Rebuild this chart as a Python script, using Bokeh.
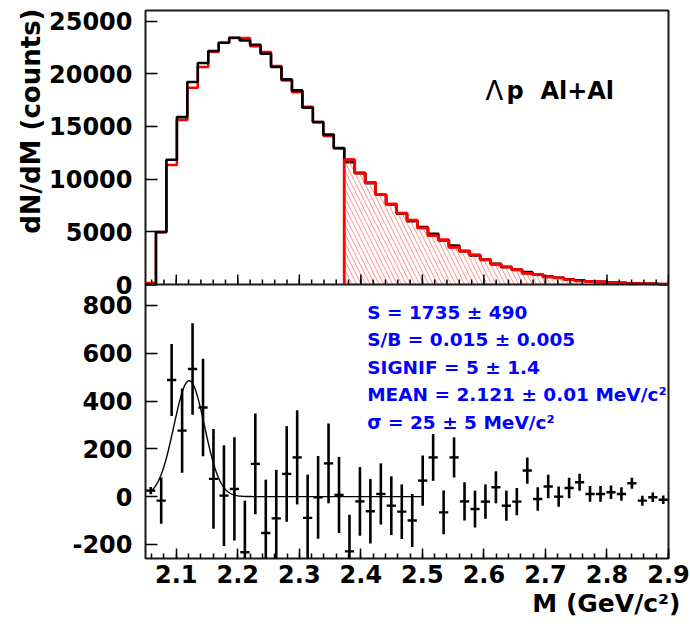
import numpy as np
from bokeh.plotting import figure
from bokeh.models import (Range1d, FixedTicker, CustomJSTickFormatter, Label, Span,
                          PrintfTickFormatter, Title)
from bokeh.embed import file_html
from bokeh.resources import INLINE

# ---------------- data ----------------
mass_lo = 2.05
mass_hi = 2.9
n_bins = 50

# upper panel: same-event (black) and mixed-event background (red), counts per bin
data_counts = [0, 4970, 11835, 15886, 19210, 21013, 22152, 22943, 23418, 23165,
               22753, 21900, 20633, 19462, 18418, 16772, 15411, 14240, 12943, 11614,
               10570, 9620, 8513, 7595, 6709, 6006, 5440, 4810, 4175, 3700,
               3160, 2750, 2340, 1960, 1640, 1390, 1170, 950, 760, 635,
               500, 410, 315, 250, 190, 160, 125, 95, 65, 30]
bg_counts = [150, 4990, 11350, 15610, 18676, 20640, 22078, 22939, 23386, 23398,
             22616, 22052, 20724, 19367, 18254, 16861, 15414, 14101, 12936, 11843,
             10590, 9681, 8524, 7633, 6772, 6106, 5373, 4646, 4241, 3536,
             3180, 2802, 2361, 1921, 1678, 1411, 1061, 960, 718, 635,
             464, 350, 304, 239, 172, 149, 69, 112, 68, 43]
hatch_from_bin = 19  # first bin of the hatched region (M > 2.373)

# lower panel: background-subtracted signal with errors
signal = [25, -17, 488, 276, 534, 373, 74, 4, 32, -233,
          137, -152, -91, 95, 164, -89, -3, 139, 7, -229,
          -20, -61, 11, -38, -63, -100, 67, 164, -66, 164,
          -20, -52, -21, 39, -38, -21, 109, -10, 42, 0,
          36, 60, 11, 11, 18, 11, 56, -17, -3, -13]
signal_err = [15, 97, 151, 176, 191, 204, 209, 211, 216, 216,
              211, 223, 203, 200, 197, 181, 173, 167, 159, 153,
              144, 135, 128, 123, 114, 111, 105, 98, 92, 84,
              80, 77, 72, 67, 63, 57, 55, 49, 49, 42,
              43, 36, 33, 33, 28, 28, 23, 21, 20, 18]

# Gaussian fit parameters
fit_amp = 485.0
fit_mean = 2.121
fit_sigma = 0.025
fit_lo = 2.0585
fit_hi = 2.5

x_major = [2.1, 2.2, 2.3, 2.4, 2.5, 2.6, 2.7, 2.8, 2.9]
x_minor = [2.06, 2.08, 2.1, 2.12, 2.14, 2.16, 2.18, 2.2, 2.22, 2.24, 2.26, 2.28, 2.3,
           2.32, 2.34, 2.36, 2.38, 2.4, 2.42, 2.44, 2.46, 2.48, 2.5, 2.52, 2.54, 2.56,
           2.58, 2.6, 2.62, 2.64, 2.66, 2.68, 2.7, 2.72, 2.74, 2.76, 2.78, 2.8, 2.82,
           2.84, 2.86, 2.88, 2.9]
top_yticks = [0, 5000, 10000, 15000, 20000, 25000]
bot_yticks = [-200, 0, 200, 400, 600, 800]

stat_lines = ["S = 1735 \u00b1 490",
              "S/B = 0.015 \u00b1 0.005",
              "SIGNIF = 5 \u00b1 1.4",
              "MEAN = 2.121 \u00b1 0.01 MeV/c\u00b2",
              "\u03c3 = 25 \u00b1 5 MeV/c\u00b2"]
panel_title_sym = "\u039b"
panel_title = "p\u00a0\u00a0Al+Al"
y_title = "dN/dM (counts)"
x_title = "M (GeV/c\u00b2)"

# ---------------- layout ----------------
T0, T1 = -26000.0, 26000.0     # upper panel occupies [0, 26000]
B0, B1 = -259.0, 2034.0        # lower panel occupies [-259, ~884]
FONT = "DejaVu Sans"

edges = np.linspace(mass_lo, mass_hi, n_bins + 1)
centers = 0.5 * (edges[:-1] + edges[1:])
data_arr = np.array(data_counts, float)
bg_arr = np.array(bg_counts, float)
sig = np.array(signal, float)
err = np.array(signal_err, float)


def step_outline(e, v):
    xs = np.repeat(e, 2)
    ys = np.concatenate([[0.0], np.repeat(v, 2), [0.0]])
    return xs, ys


p = figure(width=690, height=629, x_range=Range1d(mass_lo, mass_hi),
           y_range=Range1d(T0, T1), output_backend="svg", toolbar_location=None,
           min_border_left=145, min_border_right=22, min_border_top=10,
           min_border_bottom=71)
p.extra_y_ranges = {"bot": Range1d(B0, B1)}
p.grid.visible = False
p.outline_line_color = "#1a1a1a"
p.outline_line_width = 2
p.background_fill_color = "white"
p.border_fill_color = "white"

# ---------- upper panel ----------
rx, ry = step_outline(edges, bg_arr)
p.line(rx, ry, line_color="#ff0000", line_width=2.5)
bx, by = step_outline(edges, data_arr)
p.line(bx, by, line_color="black", line_width=2.6)

h = hatch_from_bin
p.quad(left=edges[h:-1], right=edges[h + 1:], bottom=0, top=bg_arr[h:],
       fill_color=None, line_color=None, hatch_pattern="\\",
       hatch_color="#ff7070", hatch_weight=1, hatch_scale=9, hatch_alpha=0.8)
tx, ty = step_outline(edges[h:], bg_arr[h:])
p.line(tx, ty, line_color="#ff0000", line_width=2.8)

# separator between panels and the ticks of the upper panel's x axis
p.add_layout(Span(location=0, dimension="width", line_color="#1a1a1a", line_width=2))
px_top = (T1 - T0) / 548.0
p.segment(x0=x_major, y0=0, x1=x_major, y1=10 * px_top, line_color="black", line_width=1.5)
p.segment(x0=x_minor, y0=0, x1=x_minor, y1=5 * px_top, line_color="black", line_width=1.5)

# ---------- lower panel ----------
hw = 0.0075
p.segment(x0=centers, y0=sig - err, x1=centers, y1=sig + err,
          line_color="black", line_width=2.6, y_range_name="bot")
p.segment(x0=centers - hw, y0=sig, x1=centers + hw, y1=sig,
          line_color="black", line_width=2.4, y_range_name="bot")
fx = np.linspace(fit_lo, fit_hi, 300)
fy = fit_amp * np.exp(-0.5 * ((fx - fit_mean) / fit_sigma) ** 2)
p.line(fx, fy, line_color="black", line_width=1.4, y_range_name="bot")

# ---------- axes ----------
ax = p.xaxis[0]
ax.ticker = FixedTicker(ticks=x_major, minor_ticks=x_minor)
ax.formatter = PrintfTickFormatter(format="%.1f")
ax.major_tick_in = 10
ax.major_tick_out = 0
ax.minor_tick_in = 5
ax.minor_tick_out = 0
ax.major_tick_line_width = 1.5
ax.minor_tick_line_width = 1.5
ax.axis_line_color = None
ax.major_label_standoff = 6
ax.major_label_text_font = FONT
ax.major_label_text_font_style = "bold"
ax.major_label_text_font_size = "24px"
ax.major_label_text_color = "black"

scale_tb = (T1 - T0) / (B1 - B0)
bot_as_top = [T0 + (v - B0) * scale_tb for v in bot_yticks]
ay = p.yaxis[0]
ay.ticker = FixedTicker(ticks=top_yticks + bot_as_top, minor_ticks=[])
ay.formatter = CustomJSTickFormatter(
    args=dict(t0=T0, t1=T1, b0=B0, b1=B1),
    code="""
if (tick > -500) { return tick.toFixed(0); }
const b = b0 + (tick - t0) * (b1 - b0) / (t1 - t0);
return (Math.round(b / 100) * 100).toFixed(0);
""")
ay.major_tick_in = 12
ay.major_tick_out = 0
ay.minor_tick_line_color = None
ay.major_tick_line_width = 1.5
ay.axis_line_color = None
ay.major_label_standoff = 13
ay.major_label_text_font = FONT
ay.major_label_text_font_style = "bold"
ay.major_label_text_font_size = "24px"
ay.major_label_text_color = "black"

# ---------- axis titles ----------
p.add_layout(Title(text=y_title, align="right", offset=-2, standoff=2, text_font=FONT,
                   text_font_style="bold", text_font_size="26px", text_color="black"),
             "left")
p.add_layout(Title(text=x_title, align="right", offset=-12, standoff=2, text_font=FONT,
                   text_font_style="bold", text_font_size="25px", text_color="black"),
             "below")

# ---------- texts inside the panels ----------
p.add_layout(Label(x=2.6026, y=18342, text=panel_title_sym, text_align="left",
                   text_baseline="alphabetic", text_font=FONT, text_font_style="normal",
                   text_font_size="26px", text_color="black"))
p.add_layout(Label(x=2.6367, y=18342, text=panel_title, text_align="left",
                   text_baseline="alphabetic", text_font=FONT, text_font_style="bold",
                   text_font_size="24px", text_color="black"))

stat_y = [772, 656, 542, 428, 312]
for txt, yy in zip(stat_lines, stat_y):
    p.add_layout(Label(x=2.4103, y=yy, y_range_name="bot", text=txt, text_align="left",
                       text_baseline="alphabetic", text_font=FONT, text_font_style="bold",
                       text_font_size="18.5px", text_color="#0000ff"))

open("out.html", "w").write(file_html(p, INLINE))
